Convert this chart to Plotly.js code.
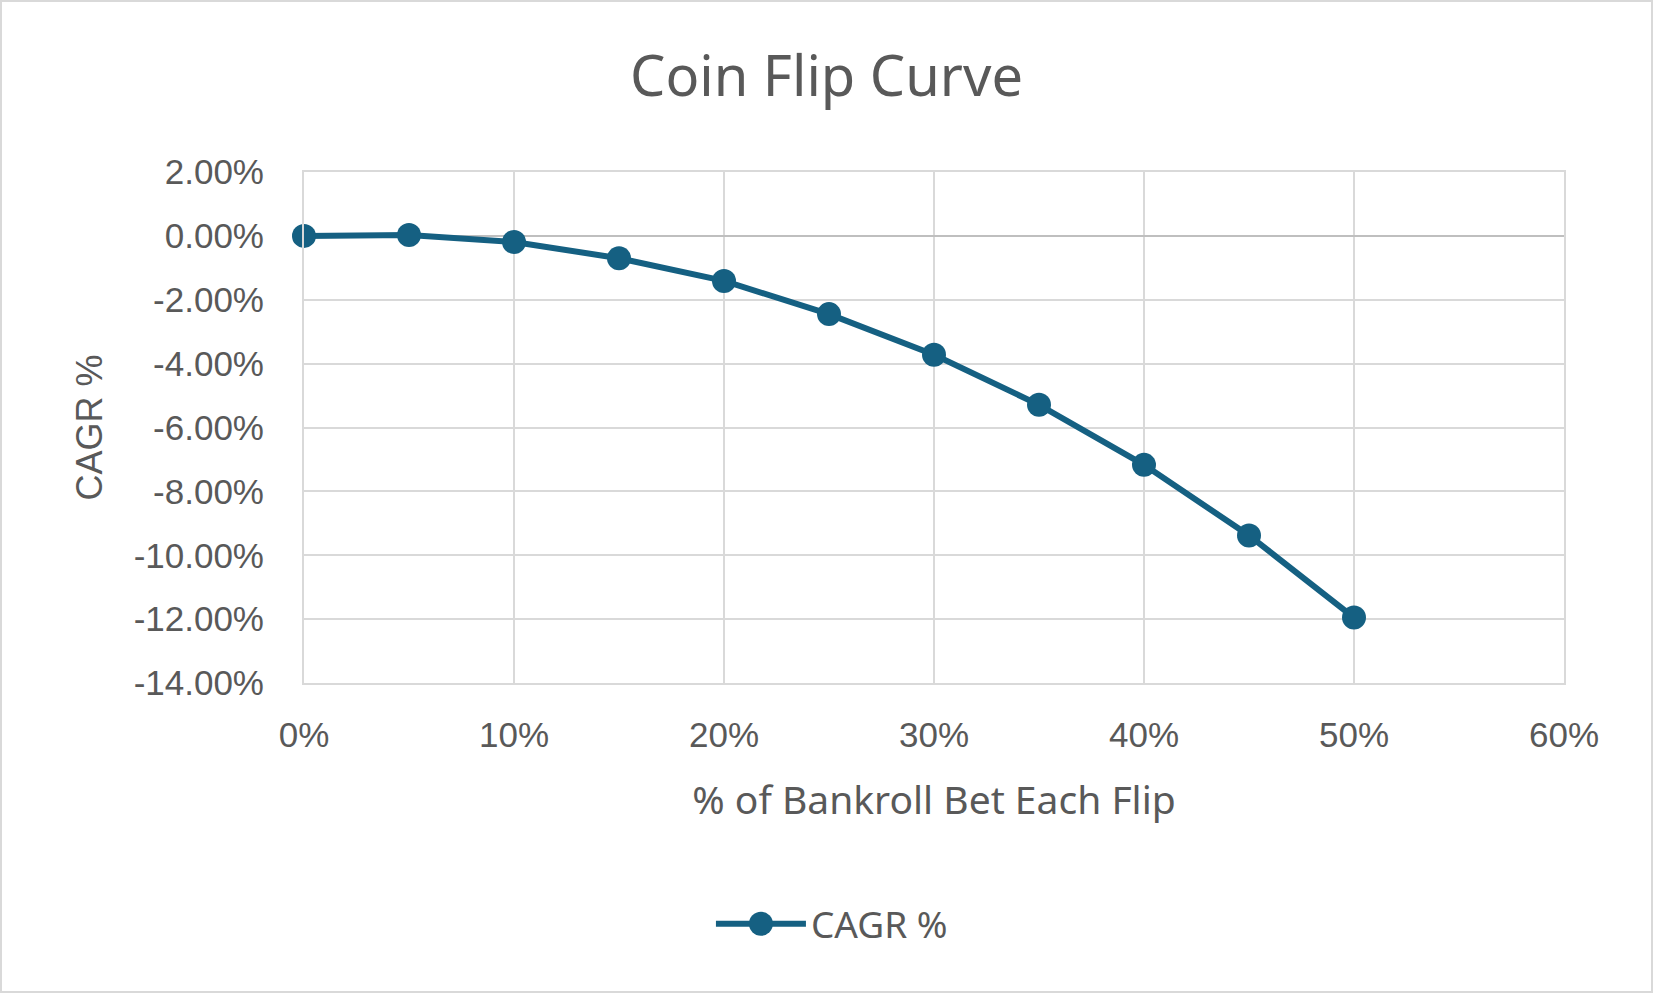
<!DOCTYPE html>
<html>
<head>
<meta charset="utf-8">
<script src="https://cdn.plot.ly/plotly-3.0.1.min.js"></script>
<style>
  html, body { margin: 0; padding: 0; background: #ffffff; }
  #wrap { position: relative; width: 1653px; height: 993px; }
  #chart { width: 1653px; height: 993px; }
  #frame {
    position: absolute; left: 0; top: 0; width: 1653px; height: 993px;
    box-sizing: border-box; border: 2px solid #d9d9d9; pointer-events: none;
  }
</style>
</head>
<body>
<div id="wrap">
  <div id="chart"></div>
  <div id="frame"></div>
</div>
<script>
// bet size as a fraction of bankroll, and the CAGR
var betFractions = [0, 0.05, 0.10, 0.15, 0.20, 0.25, 0.30, 0.35, 0.40, 0.45, 0.50];
var cagrValues = [0.0000, 0.0003, -0.0019, -0.0070, -0.0141, -0.0245, -0.0372, -0.0529, -0.0717, -0.0938, -0.1195];

var xTickValues = [0, 0.1, 0.2, 0.3, 0.4, 0.5, 0.6];
var xTickLabels = ["0%", "10%", "20%", "30%", "40%", "50%", "60%"];
var yTickValues = [0.02, 0, -0.02, -0.04, -0.06, -0.08, -0.10, -0.12, -0.14];
var yTickLabels = ["2.00%", "0.00%", "-2.00%", "-4.00%", "-6.00%", "-8.00%", "-10.00%", "-12.00%", "-14.00%"];

var lineColor = "#156082";
var textColor = "#595959";
var gridColor = "#d9d9d9";
var tickFont = "Liberation Sans, Arial, sans-serif";
var titleFont = "Noto Sans, sans-serif";

var cagrTrace =
{
    x: betFractions,
    y: cagrValues,
    mode: "lines+markers",
    type: "scatter",
    name: "CAGR %",
    line: { color: lineColor, width: 6 },
    marker: { color: lineColor, size: 24 },
    cliponaxis: false,
    hoverinfo: "skip"
};

var layout =
{
    width: 1653,
    height: 993,
    margin: { l: 304, r: 89, t: 172, b: 310 },
    paper_bgcolor: "#ffffff",
    plot_bgcolor: "#ffffff",
    title:
    {
        text: "Coin Flip Curve",
        font: { family: titleFont, size: 56, color: textColor },
        x: 0.5,
        xanchor: "center",
        y: 1 - 76 / 993,
        yanchor: "middle"
    },
    xaxis:
    {
        range: [0, 0.6],
        tickvals: xTickValues,
        ticktext: xTickLabels,
        tickfont: { family: tickFont, size: 35, color: textColor },
        ticks: "",
        ticklabelstandoff: 20,
        showgrid: true,
        gridcolor: gridColor,
        gridwidth: 2,
        zeroline: false,
        showline: true,
        linecolor: gridColor,
        linewidth: 2,
        mirror: true,
        fixedrange: true,
        title:
        {
            text: "% of Bankroll Bet Each Flip",
            font: { family: titleFont, size: 39, color: textColor },
            standoff: 34
        }
    },
    yaxis:
    {
        range: [-0.14, 0.02],
        tickvals: yTickValues,
        ticktext: yTickLabels,
        tickfont: { family: tickFont, size: 35, color: textColor },
        ticks: "",
        ticklabelstandoff: 31,
        showgrid: true,
        gridcolor: gridColor,
        gridwidth: 2,
        zeroline: true,
        zerolinecolor: "#bfbfbf",
        zerolinewidth: 2,
        showline: true,
        linecolor: gridColor,
        linewidth: 2,
        mirror: true,
        fixedrange: true,
        title:
        {
            text: "CAGR %",
            font: { family: tickFont, size: 36, color: textColor },
            standoff: 20
        }
    },
    showlegend: true,
    legend:
    {
        orientation: "h",
        x: 0.419,
        xanchor: "center",
        y: -0.472,
        yanchor: "middle",
        font: { family: titleFont, size: 37, color: textColor },
        itemwidth: 90,
        bgcolor: "rgba(0,0,0,0)"
    }
};

var config = { displayModeBar: false, staticPlot: true };

Plotly.newPlot("chart", [cagrTrace], layout, config).then(function (gd)
{
    // legend markers are capped at 16px; enlarge to match the plotted markers
    gd.querySelectorAll(".legend .legendpoints path.scatterpts").forEach(function (pt)
    {
        var t = pt.getAttribute("transform") || "";
        pt.setAttribute("transform", t + " scale(1.5)");
    });
});
</script>
</body>
</html>
